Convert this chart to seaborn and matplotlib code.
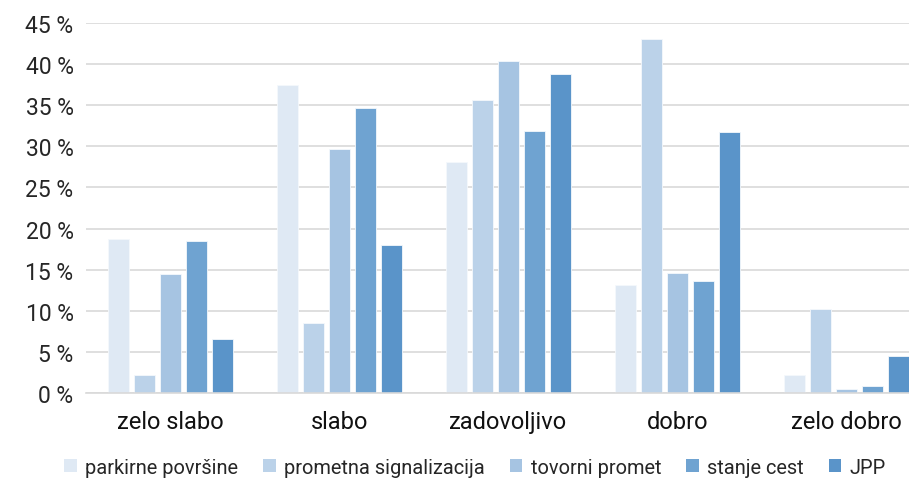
import matplotlib
matplotlib.use("Agg")
import matplotlib.pyplot as plt
import seaborn as sns
import pandas as pd

categories = ["zelo slabo", "slabo", "zadovoljivo", "dobro", "zelo dobro"]
series = ["parkirne površine", "prometna signalizacija", "tovorni promet", "stanje cest", "JPP"]
parkirne = [18.7, 37.5, 28.1, 13.1, 2.2]
prometna = [2.2, 8.5, 35.6, 43.1, 10.2]
tovorni = [14.5, 29.7, 40.4, 14.6, 0.5]
stanje = [18.5, 34.7, 31.9, 13.6, 0.9]
jpp = [6.6, 18.0, 38.8, 31.7, 4.5]
yticks = [0, 5, 10, 15, 20, 25, 30, 35, 40, 45]

colors = ["#DFE9F4", "#BBD2E9", "#A6C4E2", "#6FA3D1", "#5A94C9"]

rows = []
for name, vals in zip(series, [parkirne, prometna, tovorni, stanje, jpp]):
    for cat, v in zip(categories, vals):
        rows.append({"ocena": cat, "kategorija": name, "delež": v})
df = pd.DataFrame(rows)

sns.set_theme(style="white")
plt.rcParams["font.family"] = ["Roboto", "DejaVu Sans"]

fig = plt.figure(figsize=(9.09, 4.81), dpi=100)
# the plotting area runs a little past the right edge of the canvas
ax = fig.add_axes([86 / 909, 87 / 481, 845 / 909, (394 - 24) / 481])

sns.barplot(data=df, x="ocena", y="delež", hue="kategorija",
            order=categories, hue_order=series, palette=colors,
            saturation=1, width=0.765, gap=0.2, edgecolor="#F4F8FC",
            linewidth=0.6, ax=ax, legend=False)

ax.set_ylim(0, 45)
ax.set_xlim(-0.5, 4.5)
ax.set_yticks(yticks)
ax.set_yticklabels([f"{t} %" for t in yticks])
ax.yaxis.grid(True, color="#D9D9D9", linewidth=1.2)
ax.set_axisbelow(True)
ax.set_xlabel("")
ax.set_ylabel("")
for side in ["top", "right", "left"]:
    ax.spines[side].set_visible(False)
ax.spines["bottom"].set_color("#D9D9D9")
ax.spines["bottom"].set_linewidth(1.2)
ax.tick_params(axis="y", length=0, pad=9, labelsize=16.5, labelcolor="#262626")
ax.tick_params(axis="x", length=0, pad=12, labelsize=17, labelcolor="#111111")

handles = [plt.Rectangle((0, 0), 1, 1, facecolor=c, edgecolor="none") for c in colors]
fig.legend(handles, series, loc="center", bbox_to_anchor=(0.5226, 0.027), ncol=5,
           frameon=False, fontsize=14.4, handlelength=0.62, handleheight=0.62,
           handletextpad=0.42, columnspacing=1.25, labelcolor="#262626")

fig.savefig("out.png", dpi=100)
